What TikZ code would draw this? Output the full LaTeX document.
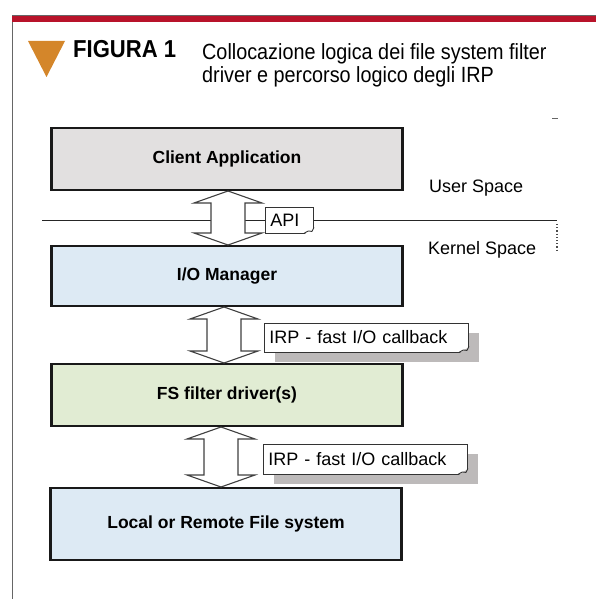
\documentclass[tikz,border=0pt]{standalone}
\usepackage{fontspec}
\setmainfont{Liberation Sans}
\newfontfamily\capfont[FakeStretch=0.9]{Liberation Sans}
\usetikzlibrary{calc,shadows}
\definecolor{redbar}{HTML}{B8132A}
\definecolor{triorange}{HTML}{D4862A}
\definecolor{clientgray}{HTML}{E2E0E0}
\definecolor{kernelblue}{HTML}{DDEAF4}
\definecolor{drivergreen}{HTML}{E1ECD3}
\definecolor{shadowgray}{HTML}{BDBABA}
\tikzset{
  layerbox/.style={draw=black!90, line width=2.4pt, minimum width=351pt, font=\fontsize{17.5}{20}\selectfont\bfseries},
  apilabel/.style={draw=black!80, fill=white, line width=0.9pt, anchor=west, inner xsep=5pt, inner ysep=0pt, align=left, font=\fontsize{18}{20}\selectfont},
  irplabel/.style={apilabel, drop shadow={shadow xshift=11pt, shadow yshift=-10pt, fill=shadowgray, opacity=1}},
  arrowbody/.style={draw=black!75, fill=white, line width=1.1pt},
  spacelabel/.style={anchor=base west, inner sep=0pt, font=\fontsize{18}{20}\selectfont}
}
\newcommand\dblarrow[3]{%
  \filldraw[arrowbody] let \p1=($(#1.south)+(#3,0)$), \p2=($(#2.north)+(#3,0)$) in
    (\x1,\y1) -- (\x1+34pt,\y1-12pt) -- (\x1+17pt,\y1-12pt) -- (\x1+17pt,\y2+12pt)
    -- (\x1+34pt,\y2+12pt) -- (\x1,\y2) -- (\x1-34pt,\y2+12pt) -- (\x1-17pt,\y2+12pt)
    -- (\x1-17pt,\y1-12pt) -- (\x1-34pt,\y1-12pt) -- cycle;}
\newcommand\foldcorner[2]{%
  \fill[#2] ([xshift=1pt,yshift=-1pt]#1.south east) -- ([xshift=1pt,yshift=6pt]#1.south east)
    -- ([xshift=-10pt,yshift=-1pt]#1.south east) -- cycle;
  \draw[black!80, line width=0.9pt, line join=round] ([yshift=6pt]#1.south east)
    -- ([xshift=-2pt,yshift=2pt]#1.south east) .. controls ([xshift=-5pt,yshift=3pt]#1.south east)
    .. ([xshift=-10pt]#1.south east);}
\begin{document}
\begin{tikzpicture}[x=1pt, y=-1pt]
  \useasboundingbox (0,0) rectangle (596,599);
  \draw[black!60, line width=0.8pt] (12,599) -- (12,15) -- (596,15);
  \fill[redbar] (12,16.5) rectangle (596,22.5);
  \fill[triorange] (28,41) -- (65,41) -- (46.5,77) -- cycle;
  \node[anchor=base west, inner sep=0pt, font=\capfont\fontsize{24.5}{26}\selectfont\bfseries] (fig) at (73,58) {FIGURA 1};
  \node[anchor=north west, inner sep=0pt, align=left, font=\capfont\fontsize{22}{23}\selectfont] (cap) at (202,43.5) {Collocazione logica dei file system filter\\driver e percorso logico degli IRP};
  \draw[black!60, line width=0.8pt] (552,118) -- (558,118);

  \draw[black!85, line width=0.9pt] (42,220) -- (557,220);
  \draw[black!70, dotted, line width=1.2pt] (557,224) -- (557,252);
  \node[spacelabel] (user) at (429,192) {User Space};
  \node[spacelabel] (kernel) at (428,254) {Kernel Space};

  \node[layerbox, fill=clientgray, minimum height=61.6pt] (client) at (227,159) {Client Application};
  \node[layerbox, fill=kernelblue, minimum height=59.6pt] (iomgr) at (227,276) {I/O Manager};
  \node[layerbox, fill=drivergreen, minimum height=61.6pt] (fsdrv) at (227,395) {FS filter driver(s)};
  \node[layerbox, fill=kernelblue, minimum height=71.6pt] (filesys) at (226,524) {Local or Remote File system};

  \dblarrow{client}{iomgr}{1}
  \dblarrow{iomgr}{fsdrv}{-3}
  \dblarrow{fsdrv}{filesys}{-6}

  \node[apilabel, text width=38pt, minimum height=26pt] (api) at (265,220) {API};
  \foldcorner{api}{white}
  \node[irplabel, text width=194pt, minimum height=29pt] (irpa) at (264,337.5) {IRP - fast I/O callback};
  \foldcorner{irpa}{shadowgray}
  \node[irplabel, text width=194pt, minimum height=30pt] (irpb) at (263,459) {IRP - fast I/O callback};
  \foldcorner{irpb}{shadowgray}
\end{tikzpicture}
\end{document}
